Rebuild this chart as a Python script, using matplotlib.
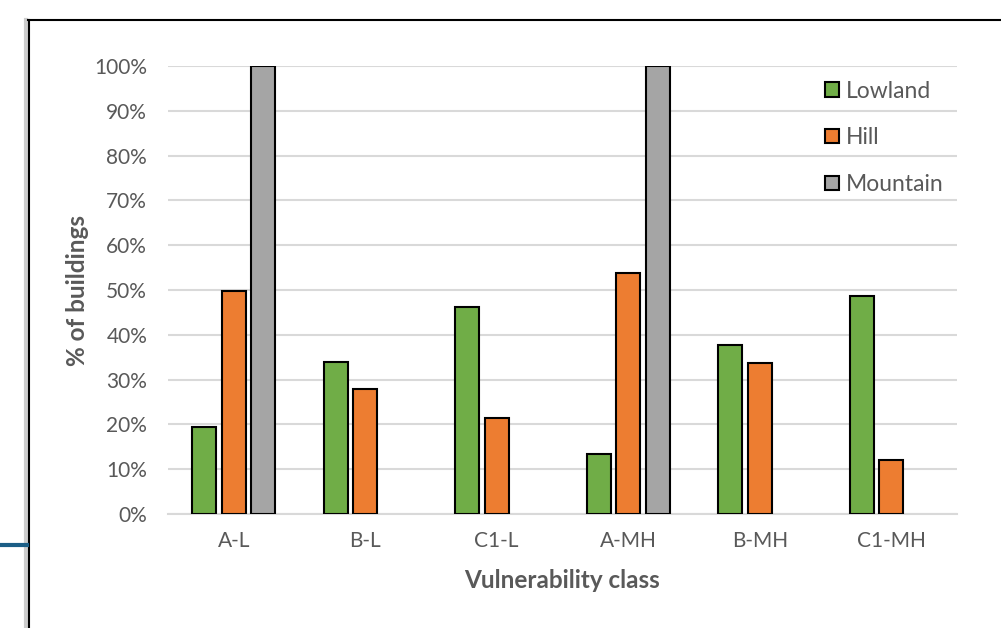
import numpy as np
import matplotlib.pyplot as plt
from matplotlib.lines import Line2D
from matplotlib.ticker import FuncFormatter

# data (fraction of buildings per vulnerability class)
classes = ["A-L", "B-L", "C1-L", "A-MH", "B-MH", "C1-MH"]
lowland = [0.194, 0.339, 0.461, 0.133, 0.378, 0.486]
hill = [0.498, 0.280, 0.214, 0.537, 0.337, 0.121]
mountain = [1.0, 0.0, 0.0, 1.0, 0.0, 0.0]

series_names = ["Lowland", "Hill", "Mountain"]
colors = ["#70ad47", "#ed7d31", "#a5a5a5"]

plt.rcParams['font.family'] = ['Lato', 'DejaVu Sans']

fig = plt.figure(figsize=(10.01, 6.28), dpi=100)
fig.patch.set_facecolor('white')

# frame of the screenshot
top = 1 - 20 / 628
fig.add_artist(Line2D([26 / 1001, 26 / 1001], [0, top], color='#cccccc', lw=3, transform=fig.transFigure))
fig.add_artist(Line2D([28.5 / 1001, 28.5 / 1001], [0, top], color='black', lw=1.5, transform=fig.transFigure))
fig.add_artist(Line2D([28 / 1001, 1], [top, top], color='black', lw=1.5, transform=fig.transFigure))
fig.add_artist(Line2D([0, 27 / 1001], [1 - 545 / 628, 1 - 545 / 628], color='#1b5e86', lw=3, transform=fig.transFigure))

ax = fig.add_axes([168 / 1001, 1 - 514 / 628, (957 - 168) / 1001, (514 - 66) / 628])

x = np.arange(len(classes))
w = 0.183
step = 0.224
for i, (vals, name, c) in enumerate(zip([lowland, hill, mountain], series_names, colors)):
    vals = np.array(vals)
    keep = vals > 0  # zero values are not drawn
    ax.bar(x[keep] + (i - 1) * step, vals[keep], width=w, color=c, edgecolor='black',
           linewidth=1.5, label=name, zorder=3)

ax.set_xlim(-0.5, len(classes) - 0.5)
ax.set_ylim(0, 1)
ax.set_yticks(np.arange(0, 1.01, 0.1))
ax.yaxis.set_major_formatter(FuncFormatter(lambda v, p: f"{v * 100:.0f}%"))
ax.set_xticks(x)
ax.set_xticklabels(classes)
ax.grid(axis='y', color='#d9d9d9', lw=1.5, zorder=0)
for s in ['top', 'right', 'left']:
    ax.spines[s].set_visible(False)
ax.spines['bottom'].set_color('#d9d9d9')
ax.spines['bottom'].set_linewidth(1.5)
ax.tick_params(axis='both', length=0, colors='#595959', labelsize=15)
ax.tick_params(axis='y', pad=15)
ax.tick_params(axis='x', pad=12)

ax.set_xlabel("Vulnerability class", fontsize=17.5, fontweight='bold', color='#595959', labelpad=13)
ax.set_ylabel("% of buildings", fontsize=17.5, fontweight='bold', color='#595959', labelpad=4)

leg = ax.legend(loc='upper right', bbox_to_anchor=(0.997, 0.993), frameon=False, fontsize=16.5,
                labelspacing=1.12, handlelength=0.6, handleheight=0.6, handletextpad=0.3,
                labelcolor='#595959', borderaxespad=0.1)
for h in leg.legend_handles:
    h.set_linewidth(1.5)

plt.savefig("out.png", dpi=100, facecolor='white')
